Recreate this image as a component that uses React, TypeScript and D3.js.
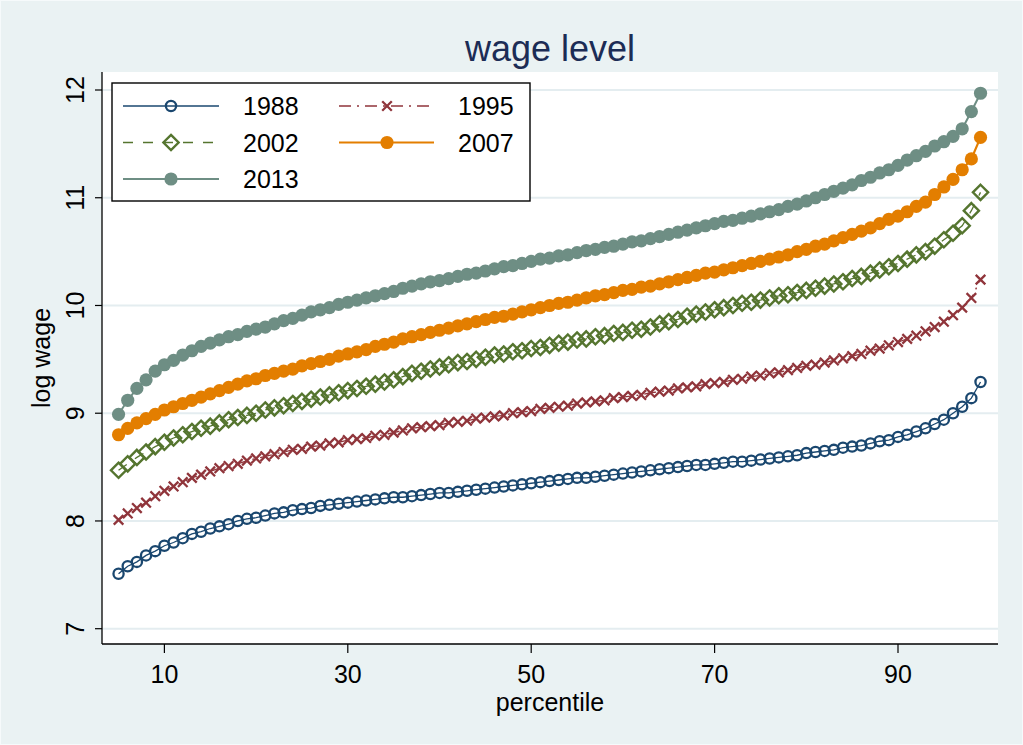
import React from 'react';
import * as d3 from 'd3';

// Percentile grid shared by all series
const percentiles = [
  5, 6, 7, 8, 9, 10, 11, 12, 13, 14, 15, 16, 17, 18, 19, 20, 21, 22, 23, 24,
  25, 26, 27, 28, 29, 30, 31, 32, 33, 34, 35, 36, 37, 38, 39, 40, 41, 42, 43, 44,
  45, 46, 47, 48, 49, 50, 51, 52, 53, 54, 55, 56, 57, 58, 59, 60, 61, 62, 63, 64,
  65, 66, 67, 68, 69, 70, 71, 72, 73, 74, 75, 76, 77, 78, 79, 80, 81, 82, 83, 84,
  85, 86, 87, 88, 89, 90, 91, 92, 93, 94, 95, 96, 97, 98, 99,
];

// Log wage by percentile, one array per survey year
const wage1988 = [
  7.51, 7.58, 7.62, 7.68, 7.72, 7.77, 7.80, 7.84, 7.88, 7.90,
  7.93, 7.95, 7.97, 8.00, 8.02, 8.03, 8.05, 8.07, 8.08, 8.10,
  8.11, 8.12, 8.14, 8.15, 8.16, 8.17, 8.18, 8.19, 8.20, 8.21,
  8.22, 8.22, 8.23, 8.24, 8.25, 8.26, 8.26, 8.27, 8.28, 8.29,
  8.30, 8.31, 8.32, 8.33, 8.34, 8.35, 8.36, 8.37, 8.38, 8.39,
  8.40, 8.40, 8.41, 8.42, 8.43, 8.44, 8.45, 8.46, 8.47, 8.48,
  8.49, 8.50, 8.51, 8.52, 8.52, 8.53, 8.54, 8.55, 8.55, 8.56,
  8.57, 8.58, 8.59, 8.60, 8.61, 8.63, 8.64, 8.65, 8.66, 8.68,
  8.69, 8.70, 8.72, 8.74, 8.75, 8.78, 8.80, 8.83, 8.86, 8.90,
  8.94, 9.00, 9.06, 9.14, 9.29,
];

const wage1995 = [
  8.01, 8.07, 8.12, 8.17, 8.23, 8.28, 8.32, 8.36, 8.40, 8.43,
  8.46, 8.49, 8.51, 8.53, 8.56, 8.58, 8.60, 8.62, 8.64, 8.66,
  8.67, 8.69, 8.70, 8.72, 8.73, 8.75, 8.76, 8.77, 8.79, 8.80,
  8.82, 8.84, 8.86, 8.87, 8.88, 8.89, 8.91, 8.92, 8.93, 8.95,
  8.96, 8.97, 8.98, 9.00, 9.01, 9.02, 9.04, 9.05, 9.06, 9.07,
  9.09, 9.10, 9.11, 9.12, 9.14, 9.15, 9.16, 9.17, 9.19, 9.20,
  9.21, 9.23, 9.24, 9.25, 9.27, 9.28, 9.29, 9.31, 9.32, 9.34,
  9.35, 9.37, 9.38, 9.40, 9.42, 9.44, 9.45, 9.47, 9.49, 9.51,
  9.53, 9.55, 9.58, 9.60, 9.63, 9.66, 9.69, 9.72, 9.76, 9.80,
  9.85, 9.91, 9.98, 10.07, 10.24,
];

const wage2002 = [
  8.47, 8.53, 8.59, 8.64, 8.69, 8.73, 8.77, 8.80, 8.83, 8.86,
  8.88, 8.91, 8.94, 8.96, 8.98, 9.00, 9.03, 9.05, 9.07, 9.09,
  9.11, 9.13, 9.15, 9.17, 9.19, 9.21, 9.23, 9.25, 9.27, 9.29,
  9.31, 9.34, 9.37, 9.39, 9.41, 9.43, 9.45, 9.47, 9.48, 9.50,
  9.52, 9.54, 9.55, 9.57, 9.58, 9.60, 9.61, 9.63, 9.65, 9.66,
  9.68, 9.69, 9.71, 9.72, 9.74, 9.75, 9.77, 9.78, 9.80, 9.83,
  9.85, 9.87, 9.90, 9.92, 9.94, 9.96, 9.98, 10.00, 10.02, 10.03,
  10.05, 10.07, 10.09, 10.10, 10.12, 10.14, 10.16, 10.18, 10.20, 10.22,
  10.25, 10.27, 10.30, 10.33, 10.36, 10.39, 10.43, 10.47, 10.50, 10.55,
  10.61, 10.67, 10.74, 10.88, 11.05,
];

const wage2007 = [
  8.80, 8.86, 8.91, 8.95, 8.99, 9.03, 9.06, 9.09, 9.12, 9.15,
  9.18, 9.21, 9.24, 9.27, 9.30, 9.32, 9.35, 9.37, 9.39, 9.41,
  9.44, 9.46, 9.48, 9.50, 9.53, 9.55, 9.57, 9.59, 9.62, 9.64,
  9.66, 9.69, 9.71, 9.73, 9.75, 9.77, 9.79, 9.81, 9.83, 9.85,
  9.87, 9.89, 9.90, 9.92, 9.94, 9.96, 9.98, 10.00, 10.02, 10.03,
  10.05, 10.07, 10.09, 10.10, 10.12, 10.14, 10.15, 10.17, 10.18, 10.20,
  10.22, 10.24, 10.26, 10.28, 10.30, 10.31, 10.33, 10.35, 10.37, 10.39,
  10.41, 10.43, 10.45, 10.47, 10.50, 10.52, 10.55, 10.57, 10.60, 10.63,
  10.66, 10.69, 10.72, 10.76, 10.80, 10.83, 10.87, 10.92, 10.96, 11.03,
  11.10, 11.17, 11.26, 11.36, 11.56,
];

const wage2013 = [
  8.99, 9.12, 9.23, 9.31, 9.39, 9.45, 9.49, 9.54, 9.58, 9.62,
  9.65, 9.68, 9.71, 9.73, 9.76, 9.78, 9.80, 9.83, 9.86, 9.88,
  9.91, 9.94, 9.96, 9.98, 10.01, 10.03, 10.05, 10.07, 10.09, 10.11,
  10.13, 10.16, 10.18, 10.20, 10.22, 10.23, 10.25, 10.27, 10.29, 10.30,
  10.32, 10.34, 10.36, 10.37, 10.39, 10.41, 10.43, 10.44, 10.46, 10.47,
  10.49, 10.51, 10.52, 10.54, 10.55, 10.57, 10.59, 10.60, 10.62, 10.64,
  10.66, 10.68, 10.70, 10.72, 10.74, 10.76, 10.78, 10.79, 10.81, 10.83,
  10.85, 10.87, 10.89, 10.92, 10.94, 10.97, 11.00, 11.03, 11.06, 11.09,
  11.12, 11.16, 11.19, 11.23, 11.26, 11.30, 11.35, 11.39, 11.43, 11.48,
  11.52, 11.57, 11.64, 11.80, 11.97,
];

const years = ['1988', '1995', '2002', '2007', '2013'];
const xTicks = [10, 30, 50, 70, 90];
const yTicks = [7, 8, 9, 10, 11, 12];

type MarkerKind = 'hollowCircle' | 'cross' | 'hollowDiamond' | 'dot';

interface Series {
  label: string;
  values: number[];
  color: string;
  marker: MarkerKind;
  dash?: string;
  lineWidth: number;
}

const series: Series[] = [
  { label: years[0], values: wage1988, color: '#1A476F', marker: 'hollowCircle', lineWidth: 1.3 },
  { label: years[1], values: wage1995, color: '#90353B', marker: 'cross', dash: '12,6,2,6', lineWidth: 1.3 },
  { label: years[2], values: wage2002, color: '#55752F', marker: 'hollowDiamond', dash: '10,10', lineWidth: 1.3 },
  { label: years[3], values: wage2007, color: '#E37E00', marker: 'dot', lineWidth: 2.2 },
  { label: years[4], values: wage2013, color: '#6E8E84', marker: 'dot', lineWidth: 2.0 },
];

const W = 1023;
const H = 745;
const BG = '#EAF2F3';
const GRID = '#E4EDF0';
const FONT = "'Liberation Sans', Arial, Helvetica, sans-serif";
const LABEL_SIZE = 25;

// Plot region
const plotLeft = 102;
const plotRight = 998;
const plotTop = 72;
const plotBottom = 644;

const x = d3.scaleLinear().domain([10, 90]).range([164.4, 898]);
const y = d3.scaleLinear().domain([7, 12]).range([628.7, 90]);

function Marker({ kind, cx, cy, color }: { kind: MarkerKind; cx: number; cy: number; color: string }) {
  switch (kind) {
    case 'hollowCircle':
      return <circle cx={cx} cy={cy} r={5.1} fill="none" stroke={color} strokeWidth={2.3} />;
    case 'cross': {
      const s = 4.8;
      return (
        <path
          d={`M${cx - s},${cy - s}L${cx + s},${cy + s}M${cx - s},${cy + s}L${cx + s},${cy - s}`}
          stroke={color}
          strokeWidth={2.3}
          fill="none"
        />
      );
    }
    case 'hollowDiamond': {
      const s = 7.6;
      return (
        <path
          d={`M${cx},${cy - s}L${cx + s},${cy}L${cx},${cy + s}L${cx - s},${cy}Z`}
          fill="none"
          stroke={color}
          strokeWidth={2.4}
        />
      );
    }
    case 'dot':
      return <circle cx={cx} cy={cy} r={6.6} fill={color} />;
  }
}

export default function App() {
  const line = d3
    .line<number>()
    .x((_, i) => x(percentiles[i]))
    .y((d) => y(d));

  // Legend layout: two columns, three rows
  const legendBox = { x: 112, y: 83, w: 418, h: 118 };
  const legendCols = [
    { lineStart: 123, lineEnd: 219, marker: 171, text: 243 },
    { lineStart: 339, lineEnd: 434, marker: 387, text: 458 },
  ];
  const legendRows = [106, 142.5, 179];

  return (
    <svg
      width={W}
      height={H}
      style={{ position: 'absolute', left: 0, top: 0, display: 'block' }}
      fontFamily={FONT}
    >
      <rect x={0} y={0} width={W} height={H} fill={BG} />
      <rect x={0.5} y={0.5} width={W - 1} height={H - 1} fill="none" stroke="#F6FAFB" strokeWidth={1} />

      {/* plot region */}
      <rect x={plotLeft} y={plotTop} width={plotRight - plotLeft} height={plotBottom - plotTop} fill="#FFFFFF" />

      {/* horizontal grid */}
      {yTicks.map((t) => (
        <line key={`g${t}`} x1={plotLeft} x2={plotRight} y1={y(t)} y2={y(t)} stroke={GRID} strokeWidth={2} />
      ))}

      {/* series */}
      {series.map((s) => (
        <g key={s.label}>
          <path
            d={line(s.values) ?? ''}
            fill="none"
            stroke={s.color}
            strokeWidth={s.lineWidth}
            strokeDasharray={s.dash}
          />
          {s.values.map((v, i) => (
            <Marker key={i} kind={s.marker} cx={x(percentiles[i])} cy={y(v)} color={s.color} />
          ))}
        </g>
      ))}

      {/* axes */}
      <line x1={plotLeft} x2={plotLeft} y1={plotTop} y2={plotBottom} stroke="#000" strokeWidth={1.3} />
      <line x1={plotLeft} x2={plotRight} y1={plotBottom} y2={plotBottom} stroke="#000" strokeWidth={1.3} />

      {yTicks.map((t) => (
        <g key={`yt${t}`}>
          <line x1={plotLeft - 7} x2={plotLeft} y1={y(t)} y2={y(t)} stroke="#000" strokeWidth={1.2} />
          <text
            transform={`translate(84,${y(t)}) rotate(-90)`}
            textAnchor="middle"
            fontSize={LABEL_SIZE}
            fill="#000"
          >
            {t}
          </text>
        </g>
      ))}

      {xTicks.map((t) => (
        <g key={`xt${t}`}>
          <line x1={x(t)} x2={x(t)} y1={plotBottom} y2={plotBottom + 9} stroke="#000" strokeWidth={1.2} />
          <text x={x(t)} y={683} textAnchor="middle" fontSize={LABEL_SIZE} fill="#000">
            {t}
          </text>
        </g>
      ))}

      {/* axis titles */}
      <text x={(plotLeft + plotRight) / 2} y={711} textAnchor="middle" fontSize={LABEL_SIZE} fill="#000">
        percentile
      </text>
      <text
        transform={`translate(50,${(plotTop + plotBottom) / 2}) rotate(-90)`}
        textAnchor="middle"
        fontSize={LABEL_SIZE}
        fill="#000"
      >
        log wage
      </text>

      {/* title */}
      <text x={(plotLeft + plotRight) / 2} y={61} textAnchor="middle" fontSize={36} fill="#1C2C55">
        wage level
      </text>

      {/* legend */}
      <rect
        x={legendBox.x}
        y={legendBox.y}
        width={legendBox.w}
        height={legendBox.h}
        fill="#FFFFFF"
        stroke="#000"
        strokeWidth={1.4}
      />
      {series.map((s, i) => {
        const col = legendCols[i % 2];
        const rowY = legendRows[Math.floor(i / 2)];
        return (
          <g key={`lg${s.label}`}>
            <line
              x1={col.lineStart}
              x2={col.lineEnd}
              y1={rowY}
              y2={rowY}
              stroke={s.color}
              strokeWidth={s.lineWidth}
              strokeDasharray={s.dash}
            />
            <Marker kind={s.marker} cx={col.marker} cy={rowY} color={s.color} />
            <text x={col.text} y={rowY + 9} fontSize={LABEL_SIZE} fill="#000">
              {s.label}
            </text>
          </g>
        );
      })}
    </svg>
  );
}
